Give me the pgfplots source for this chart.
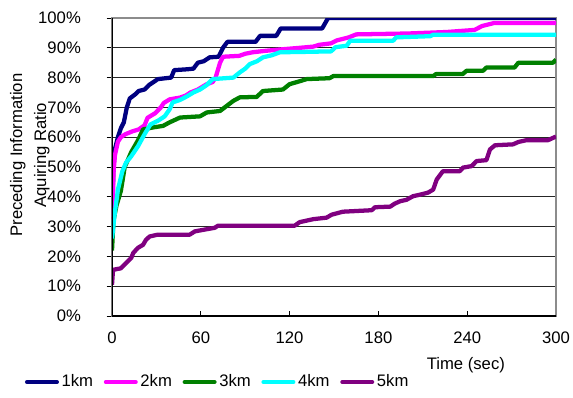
\documentclass[border=0pt]{standalone}
\usepackage{pgfplots}
\pgfplotsset{compat=1.18}
\usepackage{fontspec}
\setmainfont{Liberation Sans}
\definecolor{c1}{RGB}{0,0,128}
\definecolor{c2}{RGB}{255,0,255}
\definecolor{c3}{RGB}{0,128,0}
\definecolor{c4}{RGB}{0,255,255}
\definecolor{c5}{RGB}{128,0,128}
\begin{document}
\fontsize{12.5}{15}\selectfont
\begin{tikzpicture}
\useasboundingbox (-84pt,-60.75pt) rectangle (345.75pt,237pt);
\begin{axis}[
  at={(0,0)}, anchor=south west,
  scale only axis, width=333pt, height=223.5pt,
  xmin=0, xmax=300, ymin=0, ymax=100,
  xtick={0,60,120,180,240,300},
  ytick={0,10,...,100},
  yticklabel={\pgfmathprintnumber{\tick}\%},
  /pgf/number format/assume math mode=true,
  ymajorgrids, major grid style={black!85, line width=0.6pt},
  axis line style={black!45, line width=0.9pt},
  xtick align=inside, ytick align=outside,
  major tick length=4pt,
  tick style={black, line width=0.7pt},
  xtick pos=bottom, ytick pos=left,
  yticklabel style={anchor=east, xshift=-15pt},
  xticklabel style={anchor=north, yshift=-7.5pt},
  tick label style={font=\fontsize{12.5}{15}\selectfont},
  xlabel={Time (sec)},
  xlabel style={at={(axis description cs:0.797,-0.164)}, anchor=center, font=\fontsize{12.5}{15}\selectfont},
  ylabel={Preceding Information\\[3pt]Aquiring Ratio},
  ylabel style={at={(axis description cs:-0.185,0.54)}, anchor=center, align=center, font=\fontsize{12.5}{15}\selectfont},
  legend columns=5,
  legend style={draw=none, fill=none, at={(axis description cs:-0.196,-0.2215)}, anchor=west,
    font=\fontsize{12.5}{15}\selectfont,
    /tikz/every odd column/.append style={column sep=0pt},
    /tikz/every even column/.append style={column sep=6pt},
    inner sep=0pt, outer sep=0pt},
  legend image code/.code={\draw[#1, line width=3pt, line cap=round] (0pt,0pt) -- (22.5pt,0pt);},
  every axis plot/.append style={line width=3.2pt, line join=round},
]
\addplot[c1] coordinates {(0,30) (1,50) (2,56) (4,60) (6,63) (8,65) (10,70) (12,73) (16,74.5) (18,75.5) (22,76) (25,77.5) (28,78.5) (31,79.5) (40,80) (42,82.5) (51,82.8) (55,83) (58,85) (62,85.5) (66,86.8) (72,87) (75,90) (78,92) (97,92) (100,94) (111,94) (114,96.5) (142,96.5) (146,100) (300,100)};
\addlegendentry{1km}
\addplot[c2] coordinates {(0,32) (1,48) (2,54) (4,58.5) (6,60) (9,61) (14,62) (18,62.6) (22,64) (24,66.5) (29,68) (33,70) (35,71.5) (39,72.7) (46,73.3) (50,74) (53,75) (58,76) (64,77.8) (68,78.5) (70,80) (73,85) (75,87) (86,87.3) (90,88) (95,88.5) (104,89) (115,89.5) (127,90) (136,90.4) (140,91) (148,91.5) (152,92.5) (160,93.5) (165,94.5) (200,94.8) (226,95.3) (245,96) (250,97.3) (258,98.3) (300,98.3)};
\addlegendentry{2km}
\addplot[c3] coordinates {(0,22) (1,32) (3,37) (6,42) (8.6,50) (13,55) (17.6,59) (21,62.6) (28,63.3) (34.5,63.8) (39,65) (46,66.6) (59.5,67) (64,68.3) (73,68.8) (77.5,70.5) (82,72.2) (86.5,73.4) (97.7,73.5) (102,75.5) (115.5,76) (120,77.8) (127,78.8) (131.5,79.5) (147,79.8) (149.5,80.5) (217,80.5) (219,81.2) (237,81.2) (239.6,82.3) (250.7,82.3) (253,83.4) (272,83.4) (274.6,85) (298,85) (300,86)};
\addlegendentry{3km}
\addplot[c4] coordinates {(0,26) (2,35) (4,42.4) (7,48.6) (9.5,51.5) (13,53.6) (17.6,57) (22,61) (26,64.3) (31,65.5) (35.6,67) (39,69.4) (41,71.7) (46,72.5) (50.6,73.7) (55,75) (59.5,76) (64,77.5) (68,79.5) (82,80) (86.5,81.8) (90,83) (93,84.5) (98,85.5) (102,86.8) (108,87.5) (113.5,88.5) (127,88.6) (148,88.8) (151,90.2) (158.6,90.7) (161,92.4) (190,92.4) (192,93.5) (215,93.9) (217,94.4) (300,94.4)};
\addlegendentry{4km}
\addplot[c5] coordinates {(0,10.5) (0.7,15.5) (6,16) (9.5,17.8) (13,19.5) (14.4,21.2) (17.6,22.9) (21,23.9) (23,25.6) (25.5,26.7) (31,27.3) (52.5,27.3) (56,28.4) (62.6,29) (69.4,29.6) (71.6,30.3) (123.4,30.3) (126.8,31.5) (136,32.5) (145,33) (148.4,34) (156,35) (175.5,35.5) (177.7,36.5) (188,36.7) (191,37.7) (194.6,38.5) (199,39) (203.4,40.2) (208,40.7) (213.5,41.4) (217,42.4) (219.4,45.8) (223.6,48.6) (235,48.6) (237.2,49.8) (243,50.3) (246.4,52) (253,52.3) (255.4,55.9) (258.8,57.3) (271,57.6) (274.6,58.4) (280,59) (294.6,59) (299,60) (300,60.2)};
\addlegendentry{5km}
\draw[black, line width=1pt] (rel axis cs:0,1) -- (rel axis cs:0,0) -- (rel axis cs:1,0);
\end{axis}
\end{tikzpicture}
\end{document}
